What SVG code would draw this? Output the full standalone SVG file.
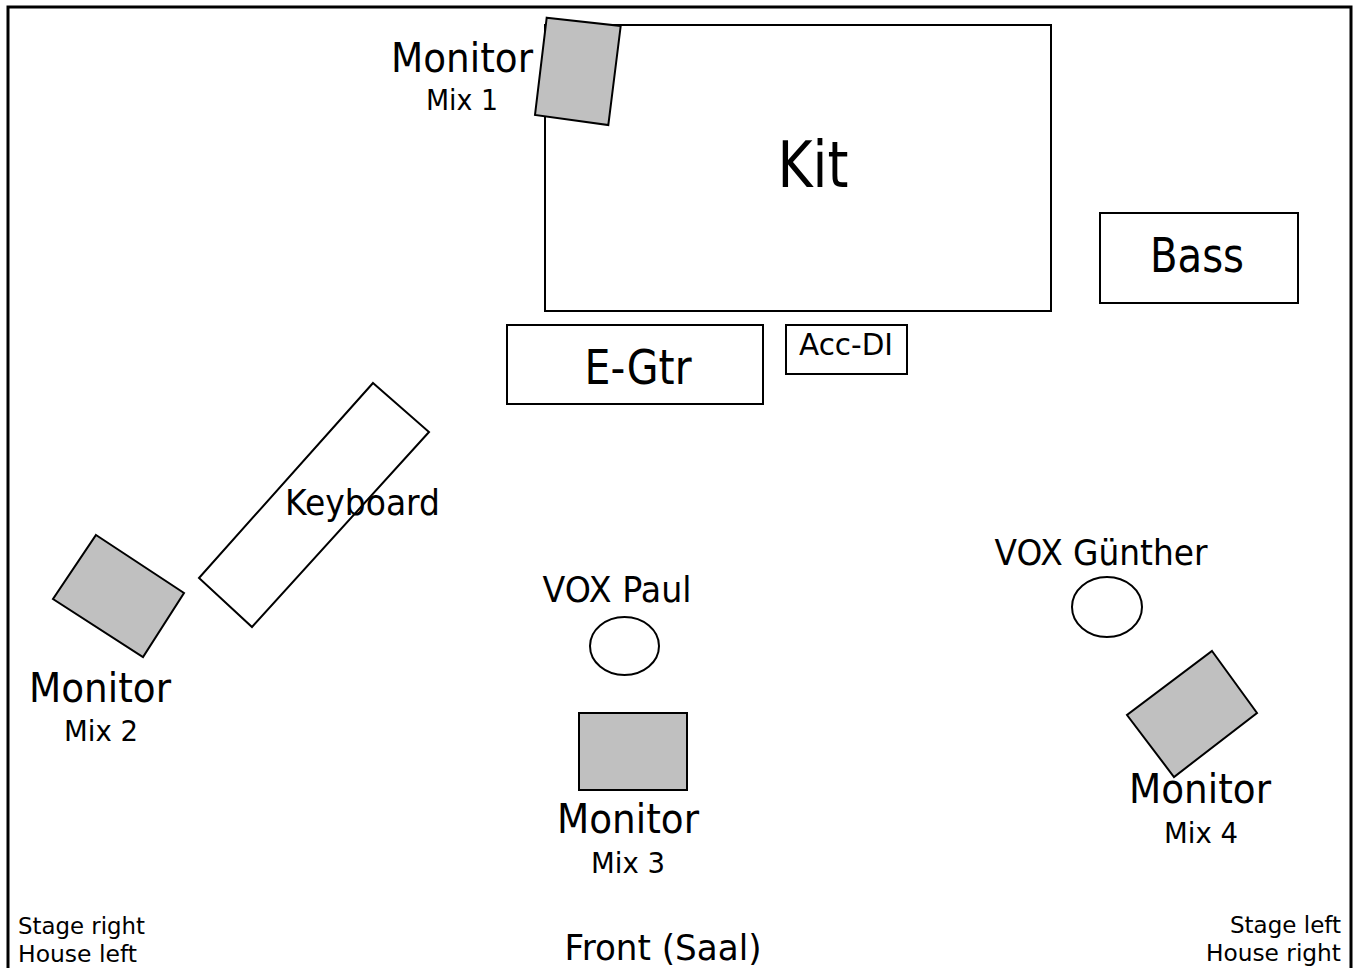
<svg xmlns="http://www.w3.org/2000/svg" width="1356" height="968" viewBox="0 0 1356 968">
<style>
.box{fill:#fff;stroke:#000;stroke-width:2}
.mon{fill:#c0c0c0;stroke:#000;stroke-width:2}
.mic{fill:#fff;stroke:#000;stroke-width:2}
text{font-family:"DejaVu Sans","Verdana",sans-serif;fill:#000}
.mid{text-anchor:middle}
</style>
<rect x="0" y="0" width="1356" height="968" fill="#fff"/>
<path d="M8,975 V7 H1351 V975" fill="none" stroke="#000" stroke-width="3"/>
<g id="kit">
<rect class="box" x="545" y="25" width="506" height="286"/>
<text class="mid" x="813" y="187" font-size="64" textLength="71" lengthAdjust="spacingAndGlyphs">Kit</text>
</g>
<g id="monitor-mix1">
<polygon class="mon" points="546.7,17.7 620.7,26 608.3,125 535,115"/>
<text class="mid" x="462" y="72" font-size="40" textLength="142" lengthAdjust="spacingAndGlyphs">Monitor</text>
<text class="mid" x="462" y="110" font-size="29" textLength="72" lengthAdjust="spacingAndGlyphs">Mix 1</text>
</g>
<g id="bass">
<rect class="box" x="1100" y="213" width="198" height="90"/>
<text class="mid" x="1197" y="272" font-size="48" textLength="94" lengthAdjust="spacingAndGlyphs">Bass</text>
</g>
<g id="egtr">
<rect class="box" x="507" y="325" width="256" height="79"/>
<text class="mid" x="638" y="384" font-size="48" textLength="107" lengthAdjust="spacingAndGlyphs">E-Gtr</text>
</g>
<g id="accdi">
<rect class="box" x="786" y="325" width="121" height="49"/>
<text class="mid" x="846" y="355" font-size="31" textLength="94" lengthAdjust="spacingAndGlyphs">Acc-DI</text>
</g>
<g id="keyboard">
<polygon class="box" points="373,383 429,432 252,627 199,578"/>
<text x="285" y="515" font-size="36" textLength="155" lengthAdjust="spacingAndGlyphs">Keyboard</text>
</g>
<g id="monitor-mix2">
<polygon class="mon" points="96,535 184,593 143,657 53,599"/>
<text class="mid" x="100" y="702" font-size="40" textLength="142" lengthAdjust="spacingAndGlyphs">Monitor</text>
<text class="mid" x="101" y="741" font-size="29" textLength="74" lengthAdjust="spacingAndGlyphs">Mix 2</text>
</g>
<g id="vox-paul">
<text class="mid" x="617" y="602" font-size="35" textLength="149" lengthAdjust="spacingAndGlyphs">VOX Paul</text>
<ellipse class="mic" cx="624.5" cy="646" rx="34.5" ry="29"/>
</g>
<g id="monitor-mix3">
<rect class="mon" x="579" y="713" width="108" height="77"/>
<text class="mid" x="628" y="833" font-size="40" textLength="142" lengthAdjust="spacingAndGlyphs">Monitor</text>
<text class="mid" x="628" y="873" font-size="29" textLength="74" lengthAdjust="spacingAndGlyphs">Mix 3</text>
</g>
<g id="vox-guenther">
<text class="mid" x="1101" y="565" font-size="35" textLength="213" lengthAdjust="spacingAndGlyphs">VOX Günther</text>
<ellipse class="mic" cx="1107" cy="607" rx="35" ry="30"/>
</g>
<g id="monitor-mix4">
<polygon class="mon" points="1212,651 1257,713 1174,777 1127,715"/>
<text class="mid" x="1200" y="803" font-size="40" textLength="142" lengthAdjust="spacingAndGlyphs">Monitor</text>
<text class="mid" x="1201" y="843" font-size="29" textLength="74" lengthAdjust="spacingAndGlyphs">Mix 4</text>
</g>
<g id="labels">
<text x="18" y="934" font-size="23" textLength="127" lengthAdjust="spacingAndGlyphs">Stage right</text>
<text x="18" y="962" font-size="23" textLength="119" lengthAdjust="spacingAndGlyphs">House left</text>
<text class="mid" x="663" y="960" font-size="35" textLength="197" lengthAdjust="spacingAndGlyphs">Front (Saal)</text>
<text x="1341" y="933" font-size="23" text-anchor="end" textLength="111" lengthAdjust="spacingAndGlyphs">Stage left</text>
<text x="1341" y="961" font-size="23" text-anchor="end" textLength="135" lengthAdjust="spacingAndGlyphs">House right</text>
</g>
<g id="connectors"/>
</svg>
